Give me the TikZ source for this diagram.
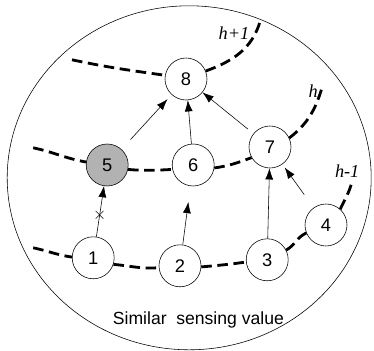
\documentclass[tikz,border=0pt]{standalone}
\usepackage{fontspec}
\setmainfont{Liberation Sans}
\newfontfamily\serifit{Liberation Serif}
\usetikzlibrary{arrows.meta, calc}

\tikzset{
  sensor/.style={circle, draw, thin, fill=white, minimum size=1.05cm, inner sep=0pt, font=\fontsize{13}{15}\selectfont},
  level/.style={line width=2pt, dash pattern=on 7.5pt off 4pt},
  hop/.style={thin, -{Latex[length=2.8mm,width=2mm]}},
  levellabel/.style={font=\fontsize{13}{15}\selectfont\serifit\itshape}
}

\begin{document}
\begin{tikzpicture}
  \useasboundingbox (0,0) rectangle (9.35,8.775);
  % Region of similar values
  \draw[thin] (4.73,4.33) ellipse (4.55 and 4.3);
  \node[font=\fontsize{12.5}{14}\selectfont] (title) at (4.96,0.78) {Similar\ \ sensing value};
  % Sensor nodes
  \node[sensor] (n1) at (2.33,2.33) {1};
  \node[sensor] (n2) at (4.5,2.13) {2};
  \node[sensor] (n3) at (6.68,2.28) {3};
  \node[sensor] (n4) at (8.15,3.15) {4};
  \node[sensor, fill=black!30] (n5) at (2.68,4.65) {5};
  \node[sensor] (n6) at (4.83,4.65) {6};
  \node[sensor] (n7) at (6.75,5.1) {7};
  \node[sensor] (n8) at (4.65,6.8) {8};
  % Level h+1
  \coordinate (up0) at (1.8,7.28);
  \coordinate (up1) at (6.5,8.23);
  \draw[level] (up0) to[out=-12,in=172] (n8.170);
  \draw[level] (n8.22) to[out=20,in=-107] (up1);
  \node[levellabel] (lup) at (5.85,7.95) {h+1};
  % Level h
  \coordinate (mid0) at (0.83,5.08);
  \coordinate (mid1) at (8.05,6.58);
  \draw[level] (mid0) to[out=-12,in=170] (n5.172);
  \draw[level] (n5.-12) to[out=-5,in=183] (n6.192);
  \draw[level] (n6.-8) to[out=8,in=200] (n7.210);
  \draw[level] (n7.25) to[out=38,in=-107] (mid1);
  \node[levellabel] (lmid) at (7.83,6.5) {h};
  % Level h-1
  \coordinate (low0) at (0.83,2.58);
  \coordinate (low1) at (8.8,4.23);
  \draw[level] (low0) to[out=-12,in=172] (n1.178);
  \draw[level] (n1.-18) to[out=-5,in=185] (n2.185);
  \draw[level] (n2.-3) to[out=5,in=188] (n3.186);
  \draw[level] (n3.27) to[out=30,in=205] (n4.202);
  \draw[level] (n4.48) to[out=65,in=-105] (low1);
  \node[levellabel] (llow) at (8.68,4.5) {h-1};
  % Routing
  \draw[hop] (n1) -- node[pos=0.42, inner sep=0pt, font=\large] {$\times$} (n5);
  \draw[hop, shorten >=0.4cm] (n2) -- (n6);
  \draw[hop] (n3) -- (n7);
  \draw[hop, shorten <=0.4cm, shorten >=0.1cm] (n4) -- (n7);
  \draw[hop, shorten <=0.33cm, shorten >=0.15cm] (n5) -- (n8);
  \draw[hop] (n6) -- (n8);
  \draw[hop, shorten <=0.18cm] (n7) -- (n8);
\end{tikzpicture}
\end{document}
